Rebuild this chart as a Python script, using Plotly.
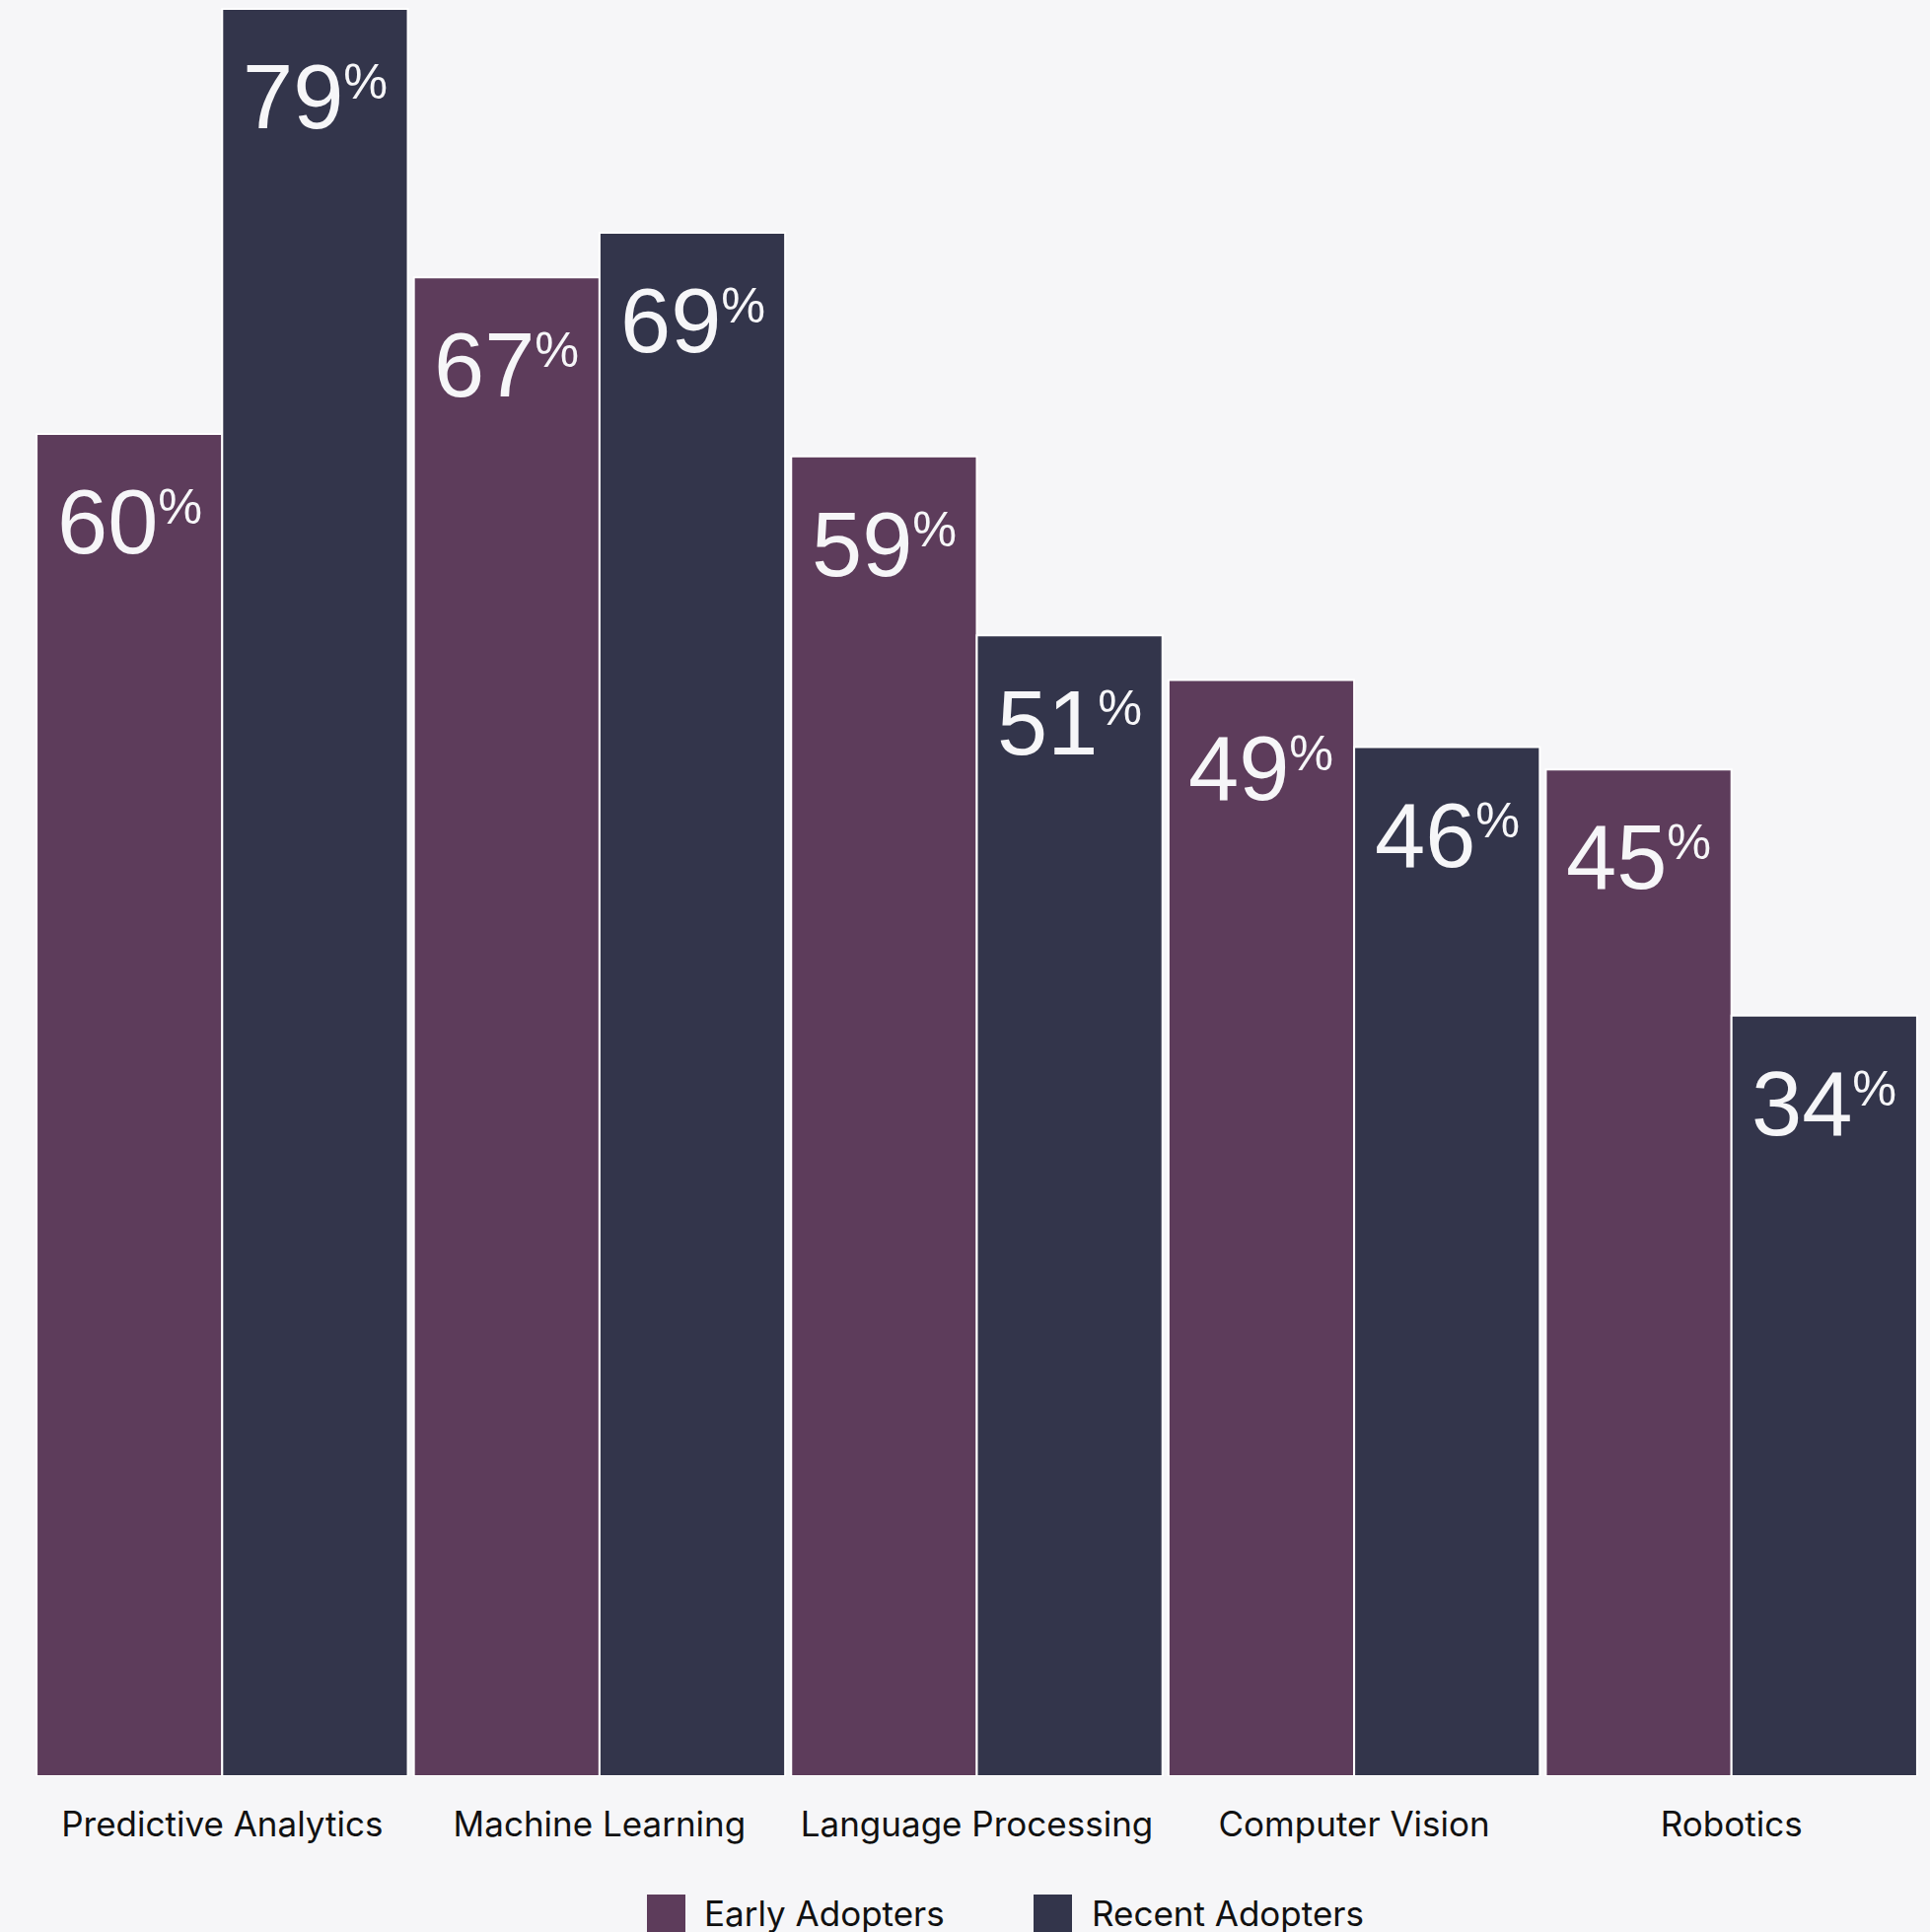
import plotly.graph_objects as go

# Adoption share by AI capability, two adopter cohorts
categories = ["Predictive Analytics", "Machine Learning", "Language Processing",
              "Computer Vision", "Robotics"]
early_adopters = [60, 67, 59, 49, 45]
recent_adopters = [79, 69, 51, 46, 34]
series_names = ["Early Adopters", "Recent Adopters"]

EARLY_COLOR = "#5d3c5b"
RECENT_COLOR = "#33354b"
BG = "#f6f6f8"
INK = "#111111"
LABEL_INK = "#f6f6f8"
FONT = "Inter"
NUM_FONT = "Liberation Sans"
NUM_SIZE = 92      # figures of the value labels
PCT_BASE = 72      # base size; the superscript % is drawn at 70% of it

W, H = 1957, 1959
M_L, M_R, M_T, M_B = 34, 10, 0, 158
BARGAP = 0.016
Y_MAX = 79.4

plot_w = W - M_L - M_R
plot_h = H - M_T - M_B
slot = plot_w / len(categories)
bar_offset = (1 - BARGAP) * slot / 4  # centre of each bar relative to its category


def px_x(px):
    return (px - M_L) / plot_w


def px_y(py):
    return (H - M_B - py) / plot_h


fig = go.Figure()
for name, values, color in [(series_names[0], early_adopters, EARLY_COLOR),
                            (series_names[1], recent_adopters, RECENT_COLOR)]:
    fig.add_trace(go.Bar(
        name=name, x=categories, y=values,
        marker=dict(color=color, line=dict(color="#ffffff", width=2)),
        showlegend=False, hoverinfo="x+y",
    ))

# value labels sitting just inside the top of each bar
annotations = []
for values, sign in [(early_adopters, -1), (recent_adopters, 1)]:
    for cat, v in zip(categories, values):
        annotations.append(dict(
            x=cat, y=v, xref="x", yref="y",
            text=f'<span style="font-size:{NUM_SIZE}px">{v}</span><sup>%</sup>',
            showarrow=False,
            xshift=sign * bar_offset, yshift=-36,
            xanchor="center", yanchor="top",
            font=dict(family=NUM_FONT, size=PCT_BASE, color=LABEL_INK),
        ))

# legend drawn as swatches plus text below the axis
legend_items = [(series_names[0], EARLY_COLOR, 656, 712),
                (series_names[1], RECENT_COLOR, 1048, 1105)]
shapes = []
for name, color, sx, tx in legend_items:
    shapes.append(dict(
        type="rect", xref="paper", yref="paper",
        x0=px_x(sx), x1=px_x(sx + 39), y0=px_y(1960), y1=px_y(1921),
        fillcolor=color, line=dict(width=0), layer="above",
    ))
    annotations.append(dict(
        x=px_x(tx), y=px_y(1940), xref="paper", yref="paper",
        text=name, showarrow=False, xanchor="left", yanchor="middle",
        font=dict(family=FONT, size=35, color=INK),
    ))

fig.update_layout(
    width=W, height=H,
    margin=dict(l=M_L, r=M_R, t=M_T, b=M_B, pad=0),
    paper_bgcolor=BG, plot_bgcolor=BG,
    barmode="group", bargap=BARGAP, bargroupgap=0,
    font=dict(family=FONT, color=INK),
    annotations=annotations, shapes=shapes,
    xaxis=dict(showgrid=False, zeroline=False, showline=False, ticks="",
               tickfont=dict(family=FONT, size=35, color=INK),
               ticklabelstandoff=25, fixedrange=True),
    yaxis=dict(range=[0, Y_MAX], visible=False, showgrid=False,
               zeroline=False, fixedrange=True),
    showlegend=False,
)

fig.write_html("out.html", config={"displayModeBar": False})
